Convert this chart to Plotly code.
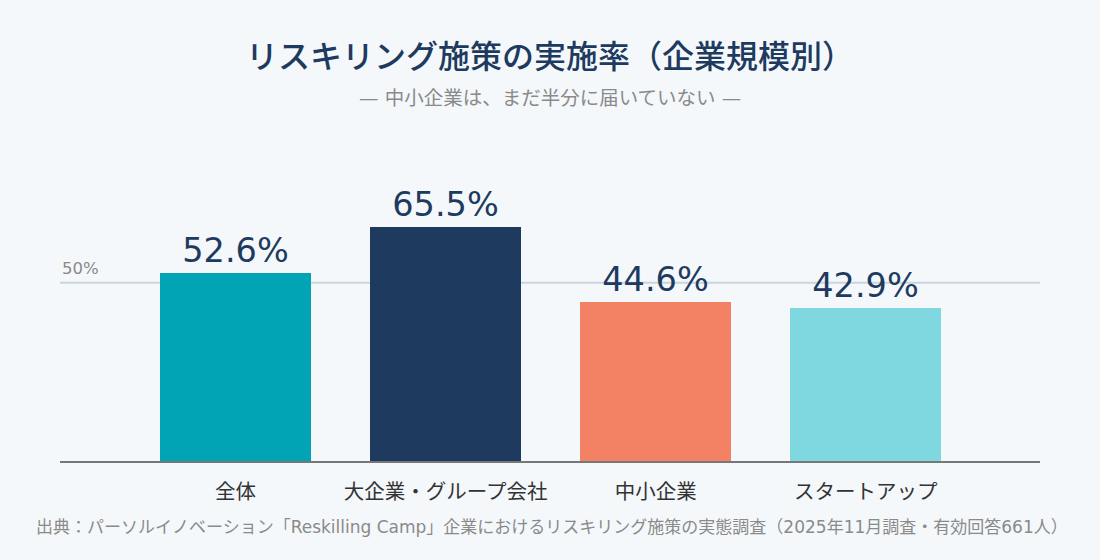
import plotly.graph_objects as go

categories = ["全体", "大企業・グループ会社", "中小企業", "スタートアップ"]
values = [52.6, 65.5, 44.6, 42.9]
colors = ["#00A4B4", "#1E3A5F", "#F28263", "#7FD8E0"]
ref_value = 50
ref_label = "50%"

title = "リスキリング施策の実施率（企業規模別）"
subtitle = "— 中小企業は、まだ半分に届いていない —"
source = "出典：パーソルイノベーション「Reskilling Camp」企業におけるリスキリング施策の実態調査（2025年11月調査・有効回答661人）"

FONT = "DejaVu Sans, Noto Sans CJK JP"
CJK = "Noto Sans CJK JP"
BG = "#F4F8FB"

fig = go.Figure()
fig.add_trace(go.Bar(
    x=list(range(len(categories))),
    y=values,
    marker=dict(color=colors, line=dict(width=0)),
    width=0.72,
    text=[f"{v:.1f}%" for v in values],
    textposition="outside",
    textfont=dict(family=FONT, size=33.5, color="#1E3A5F"),
    cliponaxis=False,
    hoverinfo="skip",
))

fig.add_shape(type="line", xref="paper", x0=0, x1=1, yref="y", y0=ref_value, y1=ref_value,
              line=dict(color="#C8D5DE", width=2), layer="below")
fig.add_annotation(xref="paper", x=0, yref="y", y=ref_value, text=ref_label,
                   showarrow=False, xanchor="left", yanchor="bottom", yshift=3,
                   font=dict(family=FONT, size=16.5, color="#8A8A8A"))

fig.add_annotation(xref="paper", yref="paper", x=0.5, y=1, text=title, showarrow=False,
                   xanchor="center", yanchor="middle", yshift=86,
                   font=dict(family=CJK, size=32, color="#1E3A5F", weight=500))
fig.add_annotation(xref="paper", yref="paper", x=0.5, y=1, text=subtitle, showarrow=False,
                   xanchor="center", yanchor="middle", yshift=42,
                   font=dict(family=FONT, size=19.5, color="#8A8A8A"))
fig.add_annotation(xref="paper", yref="paper", x=0, y=0, text=source, showarrow=False,
                   xanchor="left", yanchor="middle", xshift=-26, yshift=-66,
                   font=dict(family=FONT, size=17, color="#8A8A8A"))

fig.update_layout(
    width=1100, height=560,
    margin=dict(l=60, r=60, t=140, b=99, pad=0),
    paper_bgcolor=BG,
    plot_bgcolor=BG,
    showlegend=False,
    font=dict(family=FONT),
    bargap=0,
)
fig.update_xaxes(
    range=[-0.836, 3.83],
    tickvals=list(range(len(categories))),
    ticktext=categories,
    tickfont=dict(family=FONT, size=20.5, color="#333333"),
    showline=True, linecolor="#777777", linewidth=2,
    showgrid=False, zeroline=False, ticks="", ticklabelstandoff=11,
)
fig.update_yaxes(range=[0, 90], showticklabels=False, showgrid=False, zeroline=False, showline=False)

fig.write_html("out.html", config={"displayModeBar": False},
               post_script=f"document.body.style.margin='0';document.body.style.background='{BG}';")
